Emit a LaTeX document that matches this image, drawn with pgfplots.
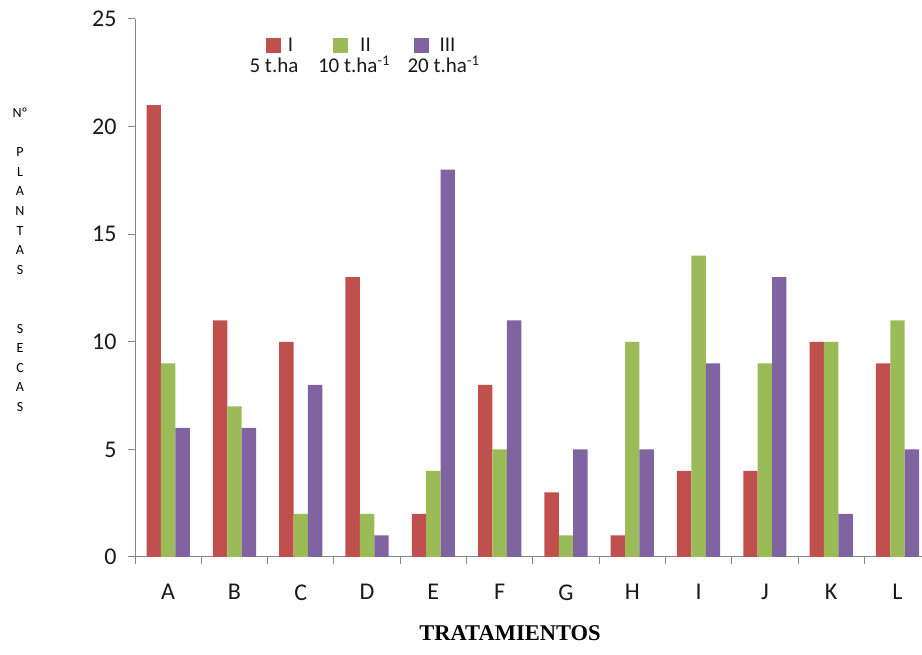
\documentclass[border=0pt]{standalone}
\usepackage{fontspec}
\setmainfont{Carlito}
\newfontfamily\titlefont{Liberation Serif}
\usepackage{pgfplots}
\pgfplotsset{compat=1.18}
\definecolor{serI}{HTML}{C0504D}
\definecolor{serII}{HTML}{9BBB59}
\definecolor{serIII}{HTML}{8064A2}
\definecolor{axisgray}{HTML}{868686}

\begin{document}
\begin{tikzpicture}[x=1bp,y=1bp]
\useasboundingbox (0,0) rectangle (922,655);
\begin{axis}[
  at={(135bp,98bp)}, anchor=south west,
  scale only axis, width=795.6bp, height=538bp,
  xmin=-0.5, xmax=11.5, ymin=0, ymax=25,
  axis x line*=bottom, axis y line*=left,
  axis line style={axisgray, line width=1pt},
  every tick/.style={axisgray, line width=1pt},
  tick align=outside, major tick length=7bp,
  ybar=0pt, bar width=14.4bp,
  xtick={-0.5,0.5,...,11.5}, x tick label as interval,
  xticklabels={A,B,C,D,E,F,G,H,I,J,K,L},
  ytick={0,5,...,25},
  /pgf/number format/assume math mode=true,
  tick label style={font=\fontsize{24bp}{28bp}\selectfont, text=black!90},
  xticklabel style={yshift=-17bp},
  yticklabel style={xshift=-8bp},
  clip=false,
]
% I: 5 t/ha
\addplot[fill=serI, draw=none] coordinates {
  (0,21) (1,11) (2,10) (3,13) (4,2) (5,8) (6,3) (7,1) (8,4) (9,4) (10,10) (11,9)};
% II: 10 t/ha
\addplot[fill=serII, draw=none] coordinates {
  (0,9) (1,7) (2,2) (3,2) (4,4) (5,5) (6,1) (7,10) (8,14) (9,9) (10,10) (11,11)};
% III: 20 t/ha
\addplot[fill=serIII, draw=none] coordinates {
  (0,6) (1,6) (2,8) (3,1) (4,18) (5,11) (6,5) (7,5) (8,9) (9,13) (10,2) (11,5)};
\end{axis}

% legend
\begin{scope}[every node/.style={font=\fontsize{21bp}{24bp}\selectfont, text=black!90, inner sep=0pt}]
  \fill[serI]   (266,602) rectangle (281,617);
  \fill[serII]  (333,602) rectangle (348,617);
  \fill[serIII] (414,602) rectangle (429,617);
  \node at (290.5,610) {I};
  \node at (365.5,610) {II};
  \node at (447.5,610) {III};
  \node[anchor=base] at (274,582) {5 t.ha};
  \node[anchor=base] at (354,582) {10 t.ha\textsuperscript{-1}};
  \node[anchor=base] at (443.5,582) {20 t.ha\textsuperscript{-1}};
\end{scope}

% vertical axis title, one letter per line
\foreach \t [count=\i] in {Nº,{},P,L,A,N,T,A,S,{},{},S,E,C,A,S}
  \node[font=\fontsize{14bp}{16bp}\selectfont, text=black] at (20,{542-(\i-1)*19.6}) {\t};

% horizontal axis title
\node[font=\titlefont\bfseries\fontsize{22.5bp}{26bp}\selectfont] at (510,22) {TRATAMIENTOS};
\end{tikzpicture}
\end{document}
